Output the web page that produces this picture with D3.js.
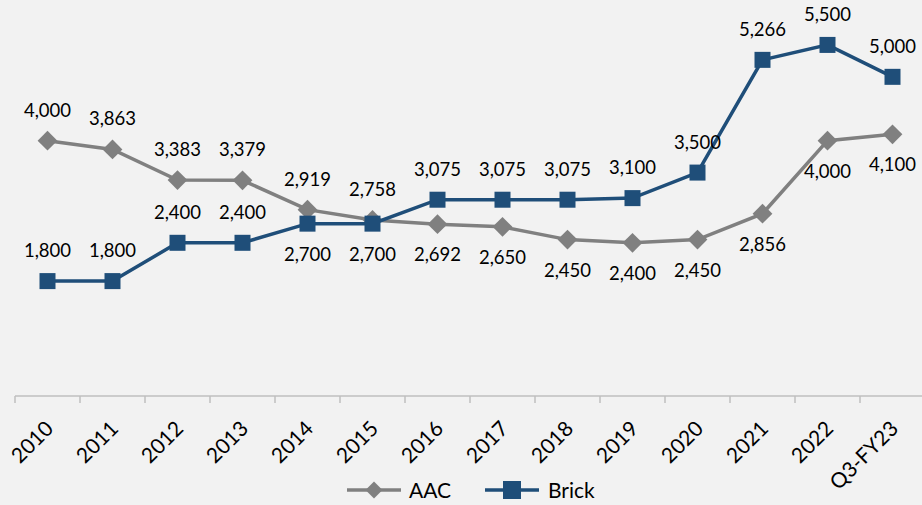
<!DOCTYPE html>
<html>
<head>
<meta charset="utf-8">
<script src="https://cdn.jsdelivr.net/npm/d3@7"></script>
<style>
  body { margin: 0; background: #f2f2f2; }
  svg { display: block; }
</style>
</head>
<body>
<div id="chart"></div>
<script>
var categories = ["2010", "2011", "2012", "2013", "2014", "2015", "2016", "2017", "2018", "2019", "2020", "2021", "2022", "Q3-FY23"];
var aac = [4000, 3863, 3383, 3379, 2919, 2758, 2692, 2650, 2450, 2400, 2450, 2856, 4000, 4100];
var brick = [1800, 1800, 2400, 2400, 2700, 2700, 3075, 3075, 3075, 3100, 3500, 5266, 5500, 5000];
// which labels sit under the point
var aacBelow = [false, false, false, false, false, false, true, true, true, true, true, true, true, true];
var brickBelow = [false, false, false, false, true, true, false, false, false, false, false, false, false, false];

var w = 922, h = 505;
var grey = "#808080", blue = "#1f4e79";
var font = "Lato, 'Open Sans', sans-serif";
var fmt = d3.format(",");

var svg = d3.select("#chart").append("svg")
    .attr("width", w)
    .attr("height", h);

var x = d3.scaleBand().domain(categories).range([15, 925]);
var y = d3.scaleLinear().domain([0, 6000]).range([396, 13]);
var cx = function(i) { return x(categories[i]) + x.bandwidth() / 2; };

// x axis line + ticks
var axis = svg.append("g");
axis.append("line")
    .attr("x1", 15).attr("x2", w)
    .attr("y1", 396).attr("y2", 396)
    .attr("stroke", "#bfbfbf").attr("stroke-width", 1.5);
axis.selectAll(".tk")
    .data(categories)
    .enter()
    .append("line")
    .attr("x1", function(d) { return x(d); })
    .attr("x2", function(d) { return x(d); })
    .attr("y1", 396).attr("y2", 403)
    .attr("stroke", "#bfbfbf").attr("stroke-width", 1.5);
axis.selectAll(".xl")
    .data(categories)
    .enter()
    .append("text")
    .attr("transform", function(d) {
        return "translate(" + (x(d) + x.bandwidth() / 2 + 7) + ",430) rotate(-45)";
    })
    .attr("text-anchor", "end")
    .attr("font-family", font)
    .attr("font-size", "21px")
    .attr("fill", "#000")
    .text(function(d) { return d; });

var line = d3.line()
    .x(function(d, i) { return cx(i); })
    .y(function(d) { return y(d); });

// AAC series
svg.append("path")
    .datum(aac)
    .attr("d", line)
    .attr("fill", "none")
    .attr("stroke", grey)
    .attr("stroke-width", 3.5);
svg.selectAll(".dia")
    .data(aac)
    .enter()
    .append("rect")
    .attr("x", -7).attr("y", -7)
    .attr("width", 14).attr("height", 14)
    .attr("transform", function(d, i) { return "translate(" + cx(i) + "," + y(d) + ") rotate(45)"; })
    .attr("fill", grey);

// Brick series
svg.append("path")
    .datum(brick)
    .attr("d", line)
    .attr("fill", "none")
    .attr("stroke", blue)
    .attr("stroke-width", 3.5);
svg.selectAll(".sq")
    .data(brick)
    .enter()
    .append("rect")
    .attr("x", function(d, i) { return cx(i) - 8; })
    .attr("y", function(d) { return y(d) - 8; })
    .attr("width", 16).attr("height", 16)
    .attr("fill", blue);

var place_labels = function(vals, below) {
    svg.selectAll(null)
        .data(vals)
        .enter()
        .append("text")
        .attr("x", function(d, i) { return cx(i); })
        .attr("y", function(d, i) { return below[i] ? y(d) + 37 : y(d) - 24; })
        .attr("text-anchor", "middle")
        .attr("font-family", font)
        .attr("font-size", "18.5px")
        .attr("fill", "#000")
        .text(function(d) { return fmt(d); });
};
place_labels(aac, aacBelow);
place_labels(brick, brickBelow);

// legend
var lg = svg.append("g").attr("transform", "translate(0,490)");
lg.append("line").attr("x1", 347).attr("x2", 401).attr("y1", 0).attr("y2", 0)
    .attr("stroke", grey).attr("stroke-width", 3.5);
lg.append("rect").attr("x", -6).attr("y", -6).attr("width", 12).attr("height", 12)
    .attr("transform", "translate(374,0) rotate(45)")
    .attr("fill", grey);
lg.append("text").attr("x", 409).attr("y", 8)
    .attr("font-family", font)
    .attr("font-size", "21px").text("AAC");
lg.append("line").attr("x1", 485).attr("x2", 539).attr("y1", 0).attr("y2", 0)
    .attr("stroke", blue).attr("stroke-width", 3.5);
lg.append("rect").attr("x", 503).attr("y", -9).attr("width", 18).attr("height", 18)
    .attr("fill", blue);
lg.append("text").attr("x", 548).attr("y", 8)
    .attr("font-family", font)
    .attr("font-size", "21px").text("Brick");
</script>
</body>
</html>
